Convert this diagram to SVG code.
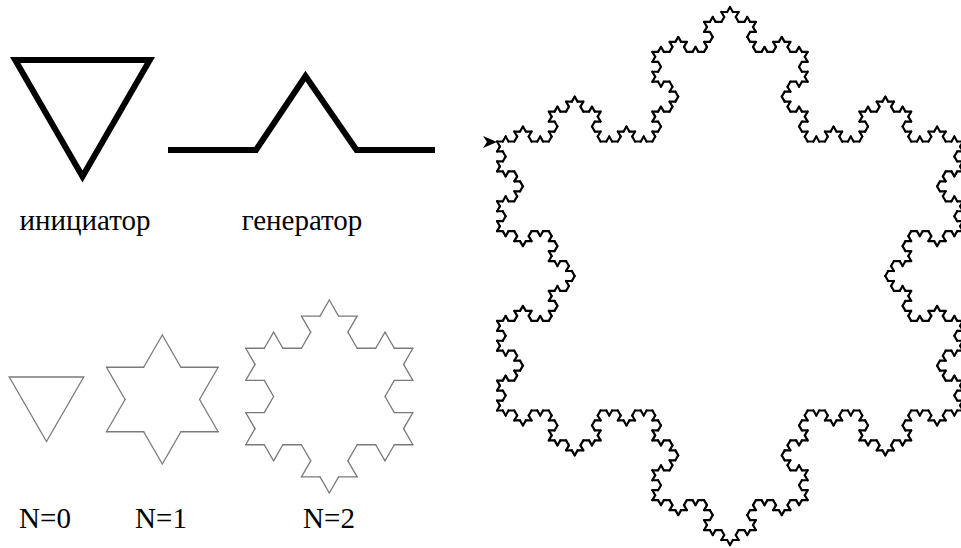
<svg xmlns="http://www.w3.org/2000/svg" xmlns:xlink="http://www.w3.org/1999/xlink" width="961" height="548" viewBox="0 0 961 548">
<style>
.seg{fill:none;vector-effect:non-scaling-stroke;stroke-linecap:round}
.lbl{font-family:"Liberation Serif","Times New Roman",serif;font-size:29px;fill:#000;text-anchor:middle}
.thick{fill:none;stroke:#000;stroke-width:6;stroke-linejoin:miter;stroke-miterlimit:10}
.thin{fill:none;stroke:#7a7a7a;stroke-width:1.3;stroke-linejoin:miter}
</style>
<defs>
<path id="k0" class="seg" d="M0,0H1"/>
<g id="k1"><use href="#k0" transform="scale(0.3333333)"/><use href="#k0" transform="translate(0.3333333,0) rotate(-60) scale(0.3333333)"/><use href="#k0" transform="translate(0.5,-0.2886751) rotate(60) scale(0.3333333)"/><use href="#k0" transform="translate(0.6666667,0) scale(0.3333333)"/></g>
<g id="k2"><use href="#k1" transform="scale(0.3333333)"/><use href="#k1" transform="translate(0.3333333,0) rotate(-60) scale(0.3333333)"/><use href="#k1" transform="translate(0.5,-0.2886751) rotate(60) scale(0.3333333)"/><use href="#k1" transform="translate(0.6666667,0) scale(0.3333333)"/></g>
<g id="k3"><use href="#k2" transform="scale(0.3333333)"/><use href="#k2" transform="translate(0.3333333,0) rotate(-60) scale(0.3333333)"/><use href="#k2" transform="translate(0.5,-0.2886751) rotate(60) scale(0.3333333)"/><use href="#k2" transform="translate(0.6666667,0) scale(0.3333333)"/></g>
<g id="k4"><use href="#k3" transform="scale(0.3333333)"/><use href="#k3" transform="translate(0.3333333,0) rotate(-60) scale(0.3333333)"/><use href="#k3" transform="translate(0.5,-0.2886751) rotate(60) scale(0.3333333)"/><use href="#k3" transform="translate(0.6666667,0) scale(0.3333333)"/></g>
<g id="flake1"><use href="#k1"/><use href="#k1" transform="translate(1,0) rotate(120)"/><use href="#k1" transform="translate(0.5,0.8660254) rotate(-120)"/></g>
<g id="flake2"><use href="#k2"/><use href="#k2" transform="translate(1,0) rotate(120)"/><use href="#k2" transform="translate(0.5,0.8660254) rotate(-120)"/></g>
<g id="flake4"><use href="#k4"/><use href="#k4" transform="translate(1,0) rotate(120)"/><use href="#k4" transform="translate(0.5,0.8660254) rotate(-120)"/></g>
</defs>
<rect width="961" height="548" fill="#fff"/>
<g id="initiator">
<polygon class="thick" points="15.2,60 149.8,60 82.5,176.6"/>
<text class="lbl" x="85" y="230">инициатор</text>
</g>
<g id="generator">
<polyline class="thick" points="168,150 256,150 305.5,76 356.5,150 435,150"/>
<text class="lbl" x="302" y="230">генератор</text>
</g>
<g id="n0">
<polygon class="thin" points="9.26,377 83.74,377 46.5,441.5"/>
<text class="lbl" x="45" y="528">N=0</text>
</g>
<g id="n1">
<use href="#flake1" stroke="#7a7a7a" stroke-width="1.3" transform="translate(106.44,367.25) scale(111.72)"/>
<text class="lbl" x="161" y="528">N=1</text>
</g>
<g id="n2">
<use href="#flake2" stroke="#7a7a7a" stroke-width="1.3" transform="translate(245.73,348.25) scale(167.14)"/>
<text class="lbl" x="329" y="528">N=2</text>
</g>
<g id="big">
<use href="#flake4" stroke="#000" stroke-width="2.2" transform="translate(497.04,141.5) scale(465.92)"/>
<polygon points="497,142 483,136 487,142 483,148" fill="#000"/>
</g>
</svg>
